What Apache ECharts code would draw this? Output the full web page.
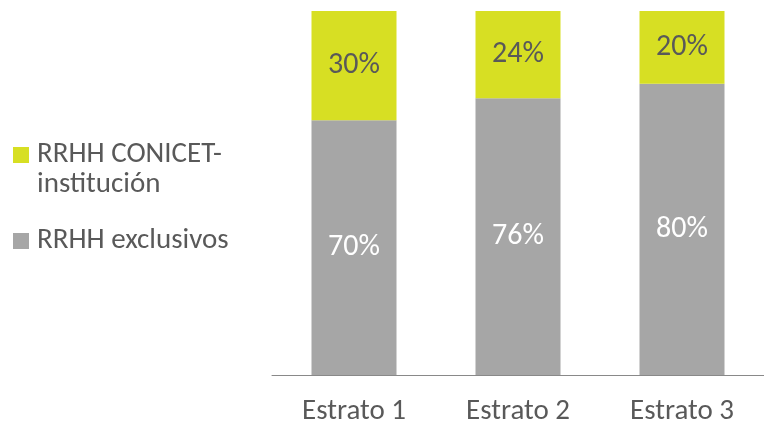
<!DOCTYPE html>
<html>
<head>
<meta charset="utf-8">
<script src="https://cdn.jsdelivr.net/npm/echarts@6/dist/echarts.min.js"></script>
<style>
html,body{margin:0;padding:0;background:#fff;}
#chart{width:764px;height:426px;}
</style>
</head>
<body>
<div id="chart"></div>
<script>
// datos
var estratos = ['Estrato 1', 'Estrato 2', 'Estrato 3'];
var exclusivos = [70, 76, 80];
var conicet = [30, 24, 20];
var nombres = ['RRHH CONICET-institución', 'RRHH exclusivos'];

var fuente = 'Carlito, Lato, sans-serif';
var myChart = echarts.init(document.getElementById('chart'));
var option = {
	animation: false,
	legend: {
		orient: 'vertical',
		left: 13,
		top: 110,
		padding: 0,
		itemWidth: 16,
		itemHeight: 16,
		itemGap: 26,
		icon: 'rect',
		data: nombres,
		formatter: function(name) {
			//el primer texto va en dos lineas, con el cuadro alineado a la primera
			if (name == nombres[0]) return '\nRRHH CONICET-\ninstitución';
			return name;
		},
		textStyle: {
			fontFamily: fuente,
			fontSize: 29,
			lineHeight: 30,
			color: '#595959',
			padding: [0, 0, 0, 3]
		}
	},
	grid: {
		left: 272,
		top: 11,
		width: 498,
		height: 365
	},
	xAxis: {
		type: 'category',
		data: estratos,
		axisLine: { lineStyle: { color: '#898989', width: 1 } },
		axisTick: { show: false },
		axisLabel: {
			margin: 22,
			fontFamily: fuente,
			fontSize: 29,
			color: '#595959'
		}
	},
	yAxis: {
		type: 'value',
		min: 0,
		max: 100,
		show: false
	},
	series: [{
		name: nombres[1],
		type: 'bar',
		stack: 'total',
		barWidth: 85,
		data: exclusivos,
		itemStyle: { color: '#a6a6a6' },
		label: {
			show: true,
			position: 'inside',
			formatter: '{c}%',
			fontFamily: fuente,
			fontSize: 30,
			color: '#ffffff'
		}
	}, {
		name: nombres[0],
		type: 'bar',
		stack: 'total',
		barWidth: 85,
		data: conicet,
		itemStyle: { color: '#d7df23' },
		label: {
			show: true,
			position: 'inside',
			formatter: '{c}%',
			fontFamily: fuente,
			fontSize: 30,
			color: '#595959'
		}
	}]
};
myChart.setOption(option);
</script>
</body>
</html>
